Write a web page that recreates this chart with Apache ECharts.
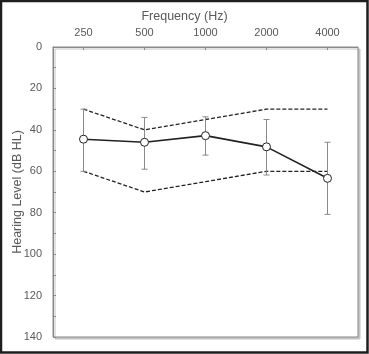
<!DOCTYPE html>
<html><head><meta charset="utf-8">
<script src="https://cdn.jsdelivr.net/npm/echarts@6/dist/echarts.min.js"></script>
<style>html,body{margin:0;padding:0;background:#fff}#c{width:369px;height:354px}</style>
</head><body><div id="c"></div>
<script>
const categories = ['250', '500', '1000', '2000', '4000'];
const meanValues = [44.5, 46, 42.8, 48.2, 63.4];
const errLow = [30, 34, 33.7, 35, 46];
const errHigh = [60, 59, 52.2, 61.8, 80.8];
const upperBound = [30, 40, 35, 30, 30];
const lowerBound = [60, 70, 65, 60, 60];
const yTicks = [0, 20, 40, 60, 80, 100, 120, 140];

const textColor = '#595959';
const font = 'Liberation Sans';
const chart = echarts.init(document.getElementById('c'));
chart.setOption({
  animation: false,
  backgroundColor: '#fff',
  graphic: [{
    type: 'rect', z: 100, silent: true,
    shape: {x: 1, y: 1, width: 366.5, height: 351.5},
    style: {fill: 'none', stroke: '#1e1e1e', lineWidth: 2.5}
  }],
  title: {
    text: 'Frequency (Hz)', left: 'center', top: 5,
    textStyle: {fontFamily: font, fontSize: 12.5, fontWeight: 'normal', color: textColor}
  },
  grid: {
    left: 53, top: 47, width: 305, height: 290, show: true,
    containLabel: false, outerBoundsMode: 'none',
    backgroundColor: '#fff', borderColor: '#8a8a8a', borderWidth: 1,
    shadowColor: '#c4c4c4', shadowOffsetX: 2, shadowOffsetY: 2, shadowBlur: 0
  },
  xAxis: {
    type: 'category', data: categories, position: 'top', boundaryGap: true,
    axisLine: {show: true, lineStyle: {color: '#8a8a8a'}},
    axisTick: {show: true, inside: true, alignWithLabel: true, length: 3, lineStyle: {color: '#8a8a8a'}},
    axisLabel: {fontFamily: font, fontSize: 11, color: textColor, margin: 9},
    splitLine: {show: false}
  },
  yAxis: {
    type: 'value', inverse: true, min: 0, max: 140, interval: 10,
    name: 'Hearing Level (dB HL)', nameLocation: 'middle', nameGap: 29, nameRotate: 90,
    nameMoveOverlap: false,
    nameTextStyle: {fontFamily: font, fontSize: 12.5, color: textColor},
    axisLine: {show: true, lineStyle: {color: '#8a8a8a'}},
    axisTick: {show: true, inside: true, length: 3, lineStyle: {color: '#8a8a8a'}},
    axisLabel: {
      fontFamily: font, fontSize: 11, color: textColor, margin: 11,
      formatter: v => yTicks.indexOf(v) >= 0 ? String(v) : ''
    },
    splitLine: {show: false}
  },
  series: [
    {
      type: 'line', data: upperBound, symbol: 'none', z: 2,
      lineStyle: {color: '#222', width: 1.3, type: [4, 2]}
    },
    {
      type: 'line', data: lowerBound, symbol: 'none', z: 2,
      lineStyle: {color: '#222', width: 1.3, type: [4, 2]}
    },
    {
      type: 'custom', z: 3,
      data: categories.map((c, i) => [i, errLow[i], errHigh[i]]),
      renderItem: function (params, api) {
        const x = api.value(0);
        const p1 = api.coord([x, api.value(1)]);
        const p2 = api.coord([x, api.value(2)]);
        const w = 3;
        const st = {stroke: '#8a8a8a', lineWidth: 1};
        return {
          type: 'group', children: [
            {type: 'line', shape: {x1: p1[0], y1: p1[1], x2: p2[0], y2: p2[1]}, style: st},
            {type: 'line', shape: {x1: p1[0] - w, y1: p1[1], x2: p1[0] + w, y2: p1[1]}, style: st},
            {type: 'line', shape: {x1: p2[0] - w, y1: p2[1], x2: p2[0] + w, y2: p2[1]}, style: st}
          ]
        };
      }
    },
    {
      type: 'line', data: meanValues, z: 5,
      symbol: 'circle', symbolSize: 8,
      itemStyle: {color: '#fff', borderColor: '#222', borderWidth: 1},
      lineStyle: {color: '#222', width: 1.6}
    }
  ]
});
</script></body></html>
